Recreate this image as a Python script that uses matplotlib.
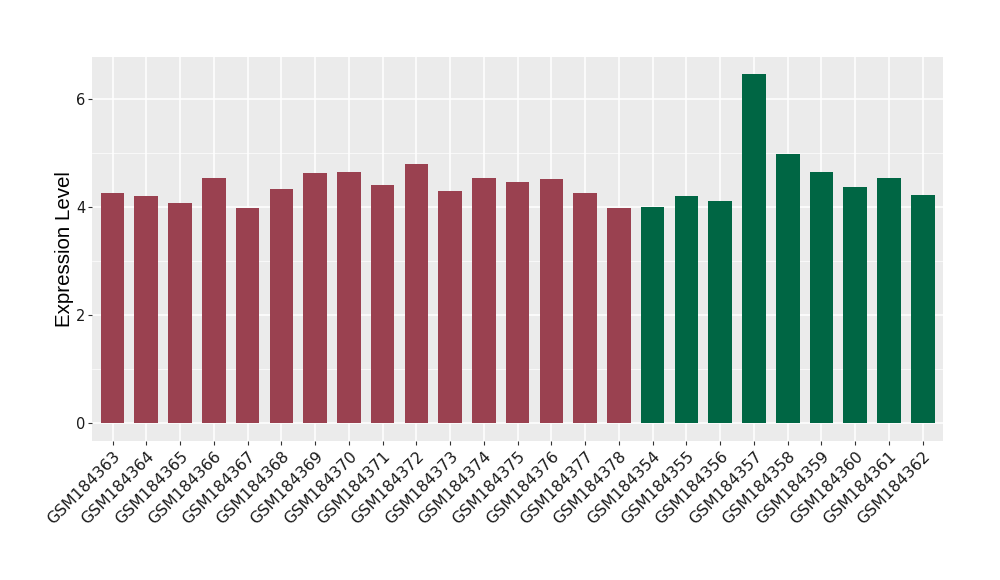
import matplotlib
matplotlib.use("Agg")
import matplotlib.pyplot as plt
from matplotlib.ticker import MultipleLocator

samples = ["GSM184363", "GSM184364", "GSM184365", "GSM184366", "GSM184367",
           "GSM184368", "GSM184369", "GSM184370", "GSM184371", "GSM184372",
           "GSM184373", "GSM184374", "GSM184375", "GSM184376", "GSM184377",
           "GSM184378", "GSM184354", "GSM184355", "GSM184356", "GSM184357",
           "GSM184358", "GSM184359", "GSM184360", "GSM184361", "GSM184362"]
values = [4.25, 4.20, 4.07, 4.53, 3.98, 4.33, 4.62, 4.64, 4.40, 4.79,
          4.29, 4.53, 4.46, 4.51, 4.25, 3.98, 3.99, 4.20, 4.10, 6.45,
          4.97, 4.64, 4.36, 4.53, 4.21]
groups = ["A"] * 16 + ["B"] * 9
group_colors = {"A": "#9A4150", "B": "#006644"}

plt.rcParams['font.family'] = ['DejaVu Sans']
fig = plt.figure(figsize=(10, 5.8), dpi=100)
ax = fig.add_axes([0.0923, 0.2402, 0.8507, 0.662])
ax.set_facecolor("#EBEBEB")

x = list(range(len(samples)))
ax.bar(x, values, width=0.7, color=[group_colors[g] for g in groups], zorder=3)

ymax = max(values)
pad = ymax * 0.05
ax.set_ylim(-pad, ymax + pad)
ax.set_xlim(-0.6, len(samples) - 0.4)

ax.yaxis.set_major_locator(MultipleLocator(2))
ax.yaxis.set_minor_locator(MultipleLocator(1))
ax.set_xticks(x)
ax.set_xticklabels(samples, rotation=45, ha="right", rotation_mode="anchor", fontsize=11.3, color="#1A1A1A")
ax.tick_params(axis="y", labelsize=10.5, labelcolor="#1A1A1A", pad=2)
ax.tick_params(axis="x", pad=2.5)
ax.tick_params(axis="both", which="major", length=3, color="#333333", width=0.8)
ax.tick_params(axis="y", which="minor", length=0)

ax.grid(which="major", color="white", linewidth=1.1, zorder=0)
ax.grid(which="minor", axis="y", color="white", linewidth=0.5, zorder=0)
ax.set_axisbelow(True)
for s in ax.spines.values():
    s.set_visible(False)

ax.set_ylabel("Expression Level", fontsize=14.8, color="black", family=["Liberation Sans", "DejaVu Sans"])
ax.yaxis.set_label_coords(-0.021, 0.5)

fig.savefig("out.png", dpi=100)
